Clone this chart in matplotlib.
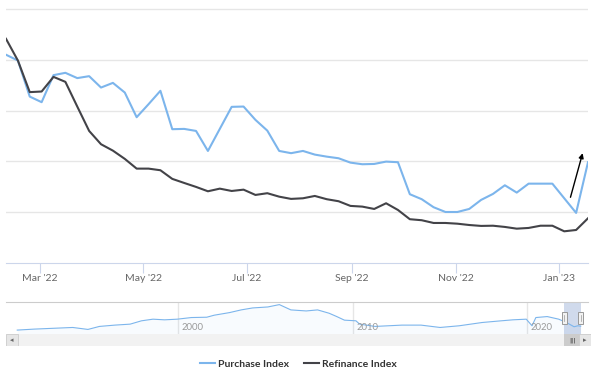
import numpy as np
import pandas as pd
import matplotlib
matplotlib.use('Agg')
import matplotlib.pyplot as plt
import matplotlib.dates as mdates
import matplotlib.transforms as mtransforms
from matplotlib.patches import Rectangle
from matplotlib.lines import Line2D

plt.rcParams['font.family'] = ['Lato', 'DejaVu Sans']

# weekly releases shown in the main window
weeks = pd.date_range('2022-02-09', '2023-01-18', freq='7D')

purchase = [205.0, 199.3, 163.8, 158.3, 184.9, 187.2, 182.0, 183.9, 172.7, 177.3,
            167.8, 143.5, 156.3, 169.5, 131.7, 132.0, 130.0, 110.3, 132.0, 153.7,
            154.0, 140.9, 130.3, 110.3, 108.1, 110.3, 106.7, 104.7, 103.1, 98.8,
            97.2, 97.5, 99.8, 99.2, 67.7, 62.8, 54.9, 50.2, 50.2, 53.2,
            62.1, 68.0, 76.5, 69.3, 78.1, 78.1, 78.1, 63.7, 49.3, 99.2]

refinance = [220.7, 199.3, 168.2, 168.8, 183.2, 178.3, 154.0, 130.0, 116.9, 110.6,
             102.5, 92.9, 92.9, 91.3, 82.8, 78.8, 74.9, 70.6, 73.2, 70.9,
             72.2, 67.0, 68.7, 65.3, 63.1, 63.7, 66.0, 62.8, 60.8, 56.2,
             55.5, 53.2, 58.8, 52.2, 43.1, 42.1, 39.4, 39.4, 38.7, 37.4,
             36.5, 36.7, 35.5, 33.8, 34.5, 36.7, 36.7, 31.2, 32.5, 44.0]

# long history in the navigator (decimal years, purchase index)
nav_years = [1990.76, 1991.74, 1993.06, 1993.94, 1994.81, 1995.47, 1996.35, 1997.23,
             1997.88, 1998.54, 1999.20, 1999.93, 2000.74, 2001.62, 2002.05, 2002.93,
             2003.59, 2004.25, 2005.12, 2005.78, 2006.44, 2007.32, 2007.97, 2008.63,
             2009.07, 2009.51, 2010.17, 2010.38, 2011.26, 2012.80, 2013.90, 2014.99,
             2016.09, 2017.40, 2018.28, 2019.16, 2019.93, 2020.26, 2020.48, 2021.13,
             2021.79, 2022.23, 2022.67, 2022.89, 2023.05]
nav_values = [100, 115, 130, 140, 110, 156, 176, 191,
              242, 267, 257, 267, 292, 297, 328, 368,
              409, 439, 454, 490, 409, 393, 409, 358,
              307, 252, 242, 191, 156, 176, 176, 140,
              166, 216, 237, 257, 267, 166, 292, 307,
              267, 216, 151, 166, 160]
nav_year_ticks = [2000, 2010, 2020]

series_names = ['Purchase Index', 'Refinance Index']
blue = '#7cb5ec'
dark = '#434348'

fig = plt.figure(figsize=(5.97, 3.76), dpi=100)
W, H = 597.0, 376.0

# main chart
ax = fig.add_axes([6 / W, 113 / H, 582 / W, 255 / H])
ax.plot(weeks, purchase, color=blue, lw=1.5, solid_joinstyle='round')
ax.plot(weeks, refinance, color=dark, lw=1.5, solid_joinstyle='round')
ax.set_xlim(weeks[0], weeks[-1])
ax.set_ylim(0, 251)
ax.set_yticks([50, 100, 150, 200, 250])
ax.tick_params(axis='y', length=0, labelleft=False)
ax.grid(axis='y', color='#e6e6e6', lw=1)
ax.set_axisbelow(True)
for s in ['top', 'left', 'right']:
    ax.spines[s].set_visible(False)
ax.spines['bottom'].set_color('#ccd6eb')
ax.xaxis.set_major_locator(mdates.MonthLocator(bymonth=[1, 3, 5, 7, 9, 11]))
ax.xaxis.set_major_formatter(mdates.DateFormatter("%b '%y"))
ax.tick_params(axis='x', length=7, color='#ccd6eb', labelcolor='#666666',
               labelsize=7.5, pad=1)

# annotation arrow near the latest reading
ax.annotate('', xy=(pd.Timestamp('2023-01-14 20:00'), 108.1),
            xytext=(pd.Timestamp('2023-01-07 16:00'), 64.7),
            arrowprops=dict(arrowstyle='-|>', color='black', lw=1,
                            mutation_scale=7, shrinkA=0, shrinkB=0))

# navigator
x0_year = 1990.115
px_per_year = 17.45
nav = fig.add_axes([6 / W, 42 / H, 582 / W, 32 / H])
nav.set_xlim(x0_year, x0_year + 582 / px_per_year)
nav.set_ylim(40, 530)
nav.fill_between(nav_years, nav_values, 40, color=blue, alpha=0.05, lw=0)
nav.plot(nav_years, nav_values, color=blue, lw=0.8)
for yr in nav_year_ticks:
    nav.axvline(yr, color='#e6e6e6', lw=1, zorder=0)
    nav.text(yr + 0.2, 0.19, str(yr), transform=nav.get_xaxis_transform(),
             color='#999999', fontsize=6.8, va='center', ha='left')
nav.set_xticks([])
nav.set_yticks([])
for s in ['left', 'right', 'bottom']:
    nav.spines[s].set_visible(False)
nav.spines['top'].set_color('#cccccc')


def dec_year(ts):
    return ts.year + (ts.dayofyear - 1) / 365.0


m0, m1 = dec_year(weeks[0]), dec_year(weeks[-1])
nav.axvspan(m0, m1, color=(102 / 255, 133 / 255, 194 / 255, 0.3), lw=0)
hw = 5 / px_per_year
for mx in [m0, m1]:
    nav.add_patch(Rectangle((mx - hw / 2, 0.32), hw, 0.38,
                            transform=nav.get_xaxis_transform(),
                            facecolor='#f2f2f2', edgecolor='#999999', lw=0.7, zorder=5))
    nav.plot([mx, mx], [0.42, 0.6], transform=nav.get_xaxis_transform(),
             color='#999999', lw=0.5, zorder=6)

# scrollbar
sb = fig.add_axes([6 / W, 30 / H, 585 / W, 12 / H])
sb.set_xlim(x0_year, x0_year + 585 / px_per_year)
sb.set_ylim(0, 1)
sb.set_facecolor('#f2f2f2')
for s in sb.spines.values():
    s.set_visible(False)
sb.set_xticks([])
sb.set_yticks([])
sb.axvspan(m0, m1, color='#cccccc', lw=0)
sb.text((m0 + m1) / 2, 0.5, '|||', color='#333333', fontsize=4.5,
        ha='center', va='center', family='DejaVu Sans')
bw = 12 / 585
sb.add_patch(Rectangle((0, 0), bw, 1, transform=sb.transAxes,
                       facecolor='#e6e6e6', edgecolor='#cccccc', lw=0.6))
sb.add_patch(Rectangle((1 - bw, 0), bw, 1, transform=sb.transAxes,
                       facecolor='#e6e6e6', edgecolor='#cccccc', lw=0.6))
sb.text(bw / 2, 0.5, '\u25c2', transform=sb.transAxes, color='#666666',
        fontsize=5, ha='center', va='center', family='DejaVu Sans')
sb.text(1 - bw / 2, 0.5, '\u25b8', transform=sb.transAxes, color='#666666',
        fontsize=5, ha='center', va='center', family='DejaVu Sans')

# legend
handles = [Line2D([0], [0], color=blue, lw=1.5), Line2D([0], [0], color=dark, lw=1.5)]
fig.legend(handles, series_names, loc='center', bbox_to_anchor=(0.5, 12 / H),
           ncol=2, frameon=False, prop=dict(family='Lato', weight='bold', size=7.5),
           labelcolor='#333333', handlelength=1.4, handletextpad=0.3,
           columnspacing=1.5)

fig.savefig('out.png', dpi=100)
